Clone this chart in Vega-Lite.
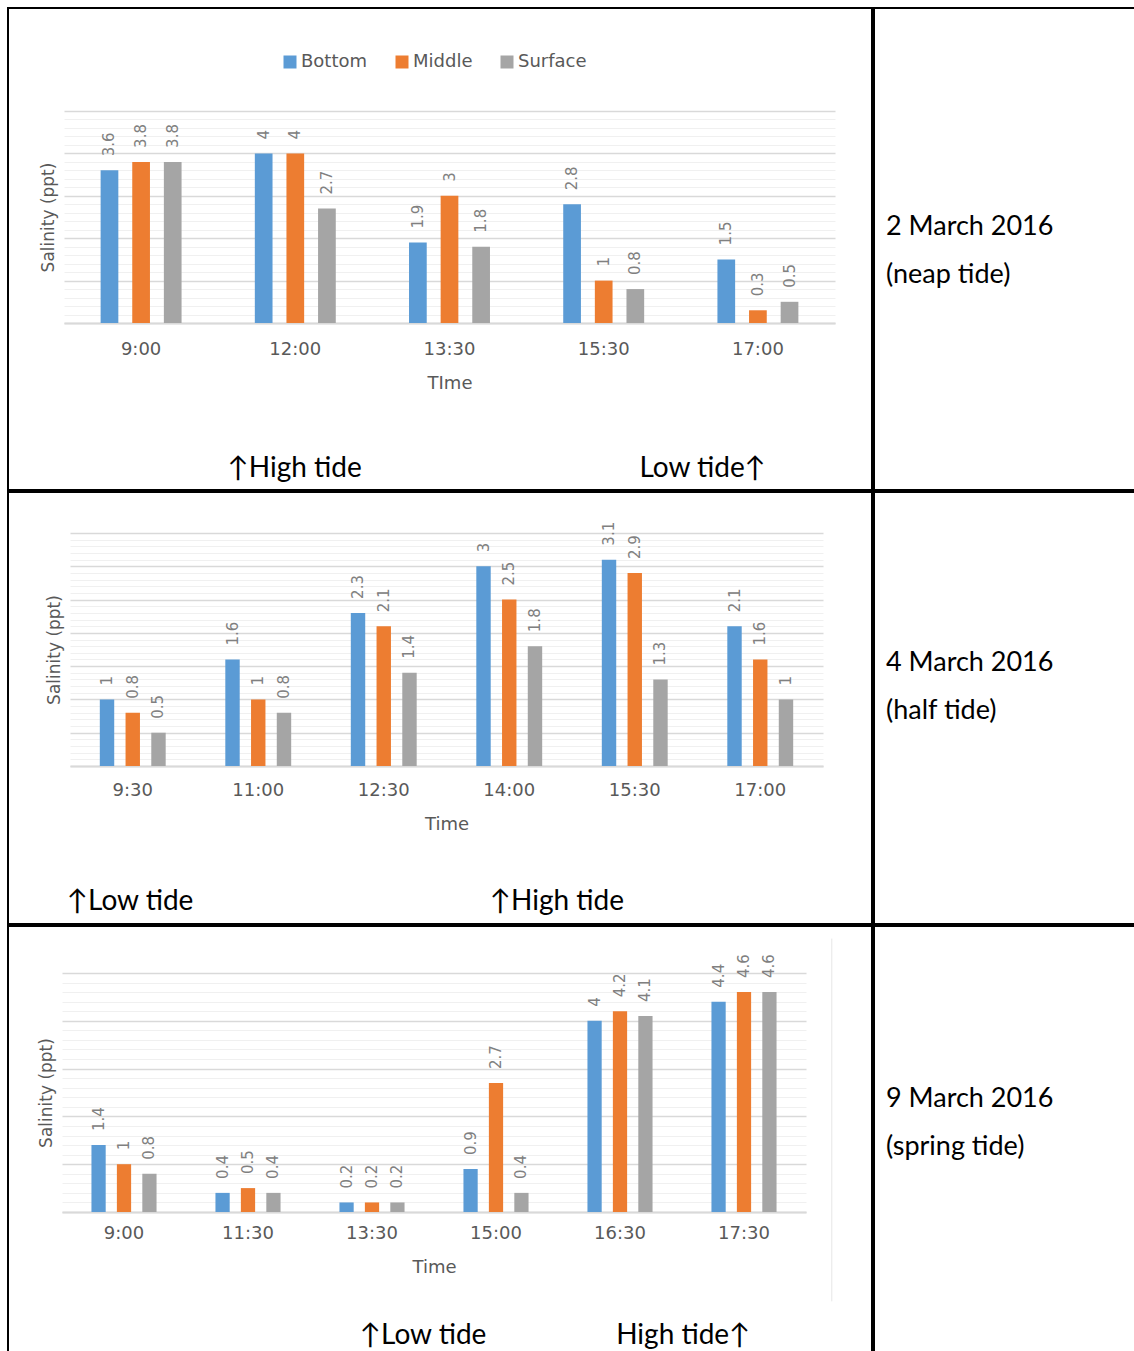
{
  "$schema": "https://vega.github.io/schema/vega-lite/v6.json",
  "padding": {"left": 7, "top": 7, "right": -9, "bottom": -12},
  "spacing": 0,
  "config": {
    "view": {"stroke": "#000000", "strokeWidth": 2},
    "font": "DejaVu Sans",
    "concat": {"spacing": 0},
    "axisX": {"labelAngle": 0, "ticks": false, "grid": false, "domainColor": "#d9d9d9", "domainWidth": 2,
              "labelFont": "DejaVu Sans", "labelFontSize": 18, "labelColor": "#595959",
              "titleFont": "DejaVu Sans", "titleFontSize": 18, "titleFontWeight": "normal", "titleColor": "#595959"},
    "axisY": {"labels": false, "ticks": false, "domain": false, "grid": true,
              "titleFont": "DejaVu Sans", "titleFontSize": 17, "titleFontWeight": "normal", "titleColor": "#595959", "titlePadding": 7}
  },
  "resolve": {"scale": {"color": "independent", "xOffset": "independent"}, "legend": {"color": "independent"}},
  "datasets": {
    "neap": [
      {"time": "9:00", "depth": "Bottom", "value": 3.6},
      {"time": "9:00", "depth": "Middle", "value": 3.8},
      {"time": "9:00", "depth": "Surface", "value": 3.8},
      {"time": "12:00", "depth": "Bottom", "value": 4},
      {"time": "12:00", "depth": "Middle", "value": 4},
      {"time": "12:00", "depth": "Surface", "value": 2.7},
      {"time": "13:30", "depth": "Bottom", "value": 1.9},
      {"time": "13:30", "depth": "Middle", "value": 3},
      {"time": "13:30", "depth": "Surface", "value": 1.8},
      {"time": "15:30", "depth": "Bottom", "value": 2.8},
      {"time": "15:30", "depth": "Middle", "value": 1},
      {"time": "15:30", "depth": "Surface", "value": 0.8},
      {"time": "17:00", "depth": "Bottom", "value": 1.5},
      {"time": "17:00", "depth": "Middle", "value": 0.3},
      {"time": "17:00", "depth": "Surface", "value": 0.5}
    ],
    "half": [
      {"time": "9:30", "depth": "Bottom", "value": 1},
      {"time": "9:30", "depth": "Middle", "value": 0.8},
      {"time": "9:30", "depth": "Surface", "value": 0.5},
      {"time": "11:00", "depth": "Bottom", "value": 1.6},
      {"time": "11:00", "depth": "Middle", "value": 1},
      {"time": "11:00", "depth": "Surface", "value": 0.8},
      {"time": "12:30", "depth": "Bottom", "value": 2.3},
      {"time": "12:30", "depth": "Middle", "value": 2.1},
      {"time": "12:30", "depth": "Surface", "value": 1.4},
      {"time": "14:00", "depth": "Bottom", "value": 3},
      {"time": "14:00", "depth": "Middle", "value": 2.5},
      {"time": "14:00", "depth": "Surface", "value": 1.8},
      {"time": "15:30", "depth": "Bottom", "value": 3.1},
      {"time": "15:30", "depth": "Middle", "value": 2.9},
      {"time": "15:30", "depth": "Surface", "value": 1.3},
      {"time": "17:00", "depth": "Bottom", "value": 2.1},
      {"time": "17:00", "depth": "Middle", "value": 1.6},
      {"time": "17:00", "depth": "Surface", "value": 1}
    ],
    "spring": [
      {"time": "9:00", "depth": "Bottom", "value": 1.4},
      {"time": "9:00", "depth": "Middle", "value": 1},
      {"time": "9:00", "depth": "Surface", "value": 0.8},
      {"time": "11:30", "depth": "Bottom", "value": 0.4},
      {"time": "11:30", "depth": "Middle", "value": 0.5},
      {"time": "11:30", "depth": "Surface", "value": 0.4},
      {"time": "13:30", "depth": "Bottom", "value": 0.2},
      {"time": "13:30", "depth": "Middle", "value": 0.2},
      {"time": "13:30", "depth": "Surface", "value": 0.2},
      {"time": "15:00", "depth": "Bottom", "value": 0.9},
      {"time": "15:00", "depth": "Middle", "value": 2.7},
      {"time": "15:00", "depth": "Surface", "value": 0.4},
      {"time": "16:30", "depth": "Bottom", "value": 4},
      {"time": "16:30", "depth": "Middle", "value": 4.2},
      {"time": "16:30", "depth": "Surface", "value": 4.1},
      {"time": "17:30", "depth": "Bottom", "value": 4.4},
      {"time": "17:30", "depth": "Middle", "value": 4.6},
      {"time": "17:30", "depth": "Surface", "value": 4.6}
    ]
  },
  "vconcat": [
    {
      "spacing": 0,
      "resolve": {"scale": {"color": "independent", "xOffset": "independent"}, "legend": {"color": "independent"}},
      "hconcat": [
        {
          "width": 864,
          "height": 482,
          "layer": [
            {
              "data": {"name": "neap"},
              "mark": {"type": "bar"},
              "encoding": {
                "x": {"field": "time", "type": "nominal", "title": "TIme",
                      "scale": {"domain": ["9:00", "12:00", "13:30", "15:30", "17:00"], "range": [56, 827], "paddingInner": 0.27, "paddingOuter": 0.135},
                      "axis": {"offset": -167, "labelPadding": 17, "titlePadding": 16}},
                "y": {"field": "value", "type": "quantitative", "title": "Salinity (ppt)",
                      "scale": {"domain": [0, 5], "range": [315, 103], "nice": false, "zero": false},
                      "axis": {"offset": -56, "values": [0, 0.2, 0.4, 0.6, 0.8, 1, 1.2, 1.4, 1.6, 1.8, 2, 2.2, 2.4, 2.6, 2.8, 3, 3.2, 3.4, 3.6, 3.8, 4, 4.2, 4.4, 4.6, 4.8, 5],
                               "gridColor": {"condition": {"test": "abs(datum.value - round(datum.value)) < 0.001", "value": "#d9d9d9"}, "value": "#f0f0f0"},
                               "gridWidth": {"condition": {"test": "abs(datum.value - round(datum.value)) < 0.001", "value": 1.5}, "value": 1}}},
                "xOffset": {"field": "depth", "type": "nominal", "sort": ["Bottom", "Middle", "Surface"], "scale": {"paddingInner": 0.44, "paddingOuter": 0.5}},
                "color": {
                  "field": "depth", "type": "nominal", "sort": ["Bottom", "Middle", "Surface"],
                  "scale": {"domain": ["Bottom", "Middle", "Surface"], "range": ["#5b9bd5", "#ed7d31", "#a5a5a5"]},
                  "legend": {"orient": "none", "legendX": 273, "legendY": 45, "direction": "horizontal", "columns": 3,
                             "title": null, "padding": 0, "columnPadding": 25, "symbolType": "square", "symbolSize": 169,
                             "symbolStrokeWidth": 0, "labelFont": "DejaVu Sans", "labelFontSize": 18, "labelColor": "#595959", "labelOffset": 2}
                }
              }
            },
            {
              "data": {"name": "neap"},
              "mark": {"type": "text", "angle": 270, "align": "left", "baseline": "middle", "dx": 14, "font": "DejaVu Sans", "fontSize": 15, "color": "#808080"},
              "encoding": {
                "x": {"field": "time", "type": "nominal", "title": "TIme",
                      "scale": {"domain": ["9:00", "12:00", "13:30", "15:30", "17:00"], "range": [56, 827], "paddingInner": 0.27, "paddingOuter": 0.135},
                      "axis": {"offset": -167, "labelPadding": 17, "titlePadding": 16}},
                "y": {"field": "value", "type": "quantitative", "title": "Salinity (ppt)",
                      "scale": {"domain": [0, 5], "range": [315, 103], "nice": false, "zero": false},
                      "axis": {"offset": -56, "values": [0, 0.2, 0.4, 0.6, 0.8, 1, 1.2, 1.4, 1.6, 1.8, 2, 2.2, 2.4, 2.6, 2.8, 3, 3.2, 3.4, 3.6, 3.8, 4, 4.2, 4.4, 4.6, 4.8, 5],
                               "gridColor": {"condition": {"test": "abs(datum.value - round(datum.value)) < 0.001", "value": "#d9d9d9"}, "value": "#f0f0f0"},
                               "gridWidth": {"condition": {"test": "abs(datum.value - round(datum.value)) < 0.001", "value": 1.5}, "value": 1}}},
                "xOffset": {"field": "depth", "type": "nominal", "sort": ["Bottom", "Middle", "Surface"], "scale": {"paddingInner": 0.44, "paddingOuter": 0.5}},
                "text": {"field": "value", "type": "quantitative"}
              }
            },
            {
              "data": {"values": [{"note": "↑High tide"}]},
              "mark": {"type": "text", "align": "left", "baseline": "middle", "font": "Lato", "fontSize": 28, "color": "#000000"},
              "encoding": {
                "x": {"datum": "12:00", "type": "nominal", "bandPosition": -0.1, "title": "TIme",
                      "scale": {"domain": ["9:00", "12:00", "13:30", "15:30", "17:00"], "range": [56, 827], "paddingInner": 0.27, "paddingOuter": 0.135},
                      "axis": {"offset": -167, "labelPadding": 17, "titlePadding": 16}},
                "y": {"datum": -3.45, "type": "quantitative", "title": "Salinity (ppt)",
                      "scale": {"domain": [0, 5], "range": [315, 103], "nice": false, "zero": false},
                      "axis": {"offset": -56, "values": [0, 0.2, 0.4, 0.6, 0.8, 1, 1.2, 1.4, 1.6, 1.8, 2, 2.2, 2.4, 2.6, 2.8, 3, 3.2, 3.4, 3.6, 3.8, 4, 4.2, 4.4, 4.6, 4.8, 5],
                               "gridColor": {"condition": {"test": "abs(datum.value - round(datum.value)) < 0.001", "value": "#d9d9d9"}, "value": "#f0f0f0"},
                               "gridWidth": {"condition": {"test": "abs(datum.value - round(datum.value)) < 0.001", "value": 1.5}, "value": 1}}},
                "text": {"field": "note", "type": "nominal"}
              }
            },
            {
              "data": {"values": [{"note": "Low tide↑"}]},
              "mark": {"type": "text", "align": "right", "baseline": "middle", "font": "Lato", "fontSize": 28, "color": "#000000"},
              "encoding": {
                "x": {"datum": "17:00", "type": "nominal", "bandPosition": 0.57, "title": "TIme",
                      "scale": {"domain": ["9:00", "12:00", "13:30", "15:30", "17:00"], "range": [56, 827], "paddingInner": 0.27, "paddingOuter": 0.135},
                      "axis": {"offset": -167, "labelPadding": 17, "titlePadding": 16}},
                "y": {"datum": -3.45, "type": "quantitative", "title": "Salinity (ppt)",
                      "scale": {"domain": [0, 5], "range": [315, 103], "nice": false, "zero": false},
                      "axis": {"offset": -56, "values": [0, 0.2, 0.4, 0.6, 0.8, 1, 1.2, 1.4, 1.6, 1.8, 2, 2.2, 2.4, 2.6, 2.8, 3, 3.2, 3.4, 3.6, 3.8, 4, 4.2, 4.4, 4.6, 4.8, 5],
                               "gridColor": {"condition": {"test": "abs(datum.value - round(datum.value)) < 0.001", "value": "#d9d9d9"}, "value": "#f0f0f0"},
                               "gridWidth": {"condition": {"test": "abs(datum.value - round(datum.value)) < 0.001", "value": 1.5}, "value": 1}}},
                "text": {"field": "note", "type": "nominal"}
              }
            }
          ]
        },
        {
          "width": 270,
          "height": 482,
          "data": {"values": [{"line": 1, "label": "2 March 2016"}, {"line": 2, "label": "(neap tide)"}]},
          "mark": {"type": "text", "align": "left", "baseline": "middle", "font": "Lato", "fontSize": 27, "color": "#000000"},
          "encoding": {
            "x": {"datum": 0, "type": "quantitative", "scale": {"domain": [0, 1], "range": [12, 262]}, "axis": null},
            "y": {"field": "line", "type": "ordinal", "scale": {"type": "point", "range": [219, 267], "padding": 0}, "axis": null},
            "text": {"field": "label"}
          }
        }
      ]
    },
    {
      "spacing": 0,
      "resolve": {"scale": {"color": "independent", "xOffset": "independent"}, "legend": {"color": "independent"}},
      "hconcat": [
        {
          "width": 864,
          "height": 432,
          "layer": [
            {
              "data": {"name": "half"},
              "mark": {"type": "bar"},
              "encoding": {
                "x": {"field": "time", "type": "nominal", "title": "Time",
                      "scale": {"domain": ["9:30", "11:00", "12:30", "14:00", "15:30", "17:00"], "range": [62, 815], "paddingInner": 0.27, "paddingOuter": 0.135},
                      "axis": {"offset": -158, "labelPadding": 15, "titlePadding": 16}},
                "y": {"field": "value", "type": "quantitative", "title": "Salinity (ppt)",
                      "scale": {"domain": [0, 3.5], "range": [274, 41], "nice": false, "zero": false},
                      "axis": {"offset": -62, "values": [0, 0.1, 0.2, 0.3, 0.4, 0.5, 0.6, 0.7, 0.8, 0.9, 1, 1.1, 1.2, 1.3, 1.4, 1.5, 1.6, 1.7, 1.8, 1.9, 2, 2.1, 2.2, 2.3, 2.4, 2.5, 2.6, 2.7, 2.8, 2.9, 3, 3.1, 3.2, 3.3, 3.4, 3.5],
                               "gridColor": {"condition": {"test": "abs(datum.value * 2 - round(datum.value * 2)) < 0.001", "value": "#d9d9d9"}, "value": "#f0f0f0"},
                               "gridWidth": {"condition": {"test": "abs(datum.value * 2 - round(datum.value * 2)) < 0.001", "value": 1.5}, "value": 1}}},
                "xOffset": {"field": "depth", "type": "nominal", "sort": ["Bottom", "Middle", "Surface"], "scale": {"paddingInner": 0.44, "paddingOuter": 0.5}},
                "color": {
                  "field": "depth", "type": "nominal", "sort": ["Bottom", "Middle", "Surface"],
                  "scale": {"domain": ["Bottom", "Middle", "Surface"], "range": ["#5b9bd5", "#ed7d31", "#a5a5a5"]},
                  "legend": null
                }
              }
            },
            {
              "data": {"name": "half"},
              "mark": {"type": "text", "angle": 270, "align": "left", "baseline": "middle", "dx": 14, "font": "DejaVu Sans", "fontSize": 15, "color": "#808080"},
              "encoding": {
                "x": {"field": "time", "type": "nominal", "title": "Time",
                      "scale": {"domain": ["9:30", "11:00", "12:30", "14:00", "15:30", "17:00"], "range": [62, 815], "paddingInner": 0.27, "paddingOuter": 0.135},
                      "axis": {"offset": -158, "labelPadding": 15, "titlePadding": 16}},
                "y": {"field": "value", "type": "quantitative", "title": "Salinity (ppt)",
                      "scale": {"domain": [0, 3.5], "range": [274, 41], "nice": false, "zero": false},
                      "axis": {"offset": -62, "values": [0, 0.1, 0.2, 0.3, 0.4, 0.5, 0.6, 0.7, 0.8, 0.9, 1, 1.1, 1.2, 1.3, 1.4, 1.5, 1.6, 1.7, 1.8, 1.9, 2, 2.1, 2.2, 2.3, 2.4, 2.5, 2.6, 2.7, 2.8, 2.9, 3, 3.1, 3.2, 3.3, 3.4, 3.5],
                               "gridColor": {"condition": {"test": "abs(datum.value * 2 - round(datum.value * 2)) < 0.001", "value": "#d9d9d9"}, "value": "#f0f0f0"},
                               "gridWidth": {"condition": {"test": "abs(datum.value * 2 - round(datum.value * 2)) < 0.001", "value": 1.5}, "value": 1}}},
                "xOffset": {"field": "depth", "type": "nominal", "sort": ["Bottom", "Middle", "Surface"], "scale": {"paddingInner": 0.44, "paddingOuter": 0.5}},
                "text": {"field": "value", "type": "quantitative"}
              }
            },
            {
              "data": {"values": [{"note": "↑Low tide"}]},
              "mark": {"type": "text", "align": "left", "baseline": "middle", "font": "Lato", "fontSize": 28, "color": "#000000"},
              "encoding": {
                "x": {"datum": "9:30", "type": "nominal", "bandPosition": -0.217, "title": "Time",
                      "scale": {"domain": ["9:30", "11:00", "12:30", "14:00", "15:30", "17:00"], "range": [62, 815], "paddingInner": 0.27, "paddingOuter": 0.135},
                      "axis": {"offset": -158, "labelPadding": 15, "titlePadding": 16}},
                "y": {"datum": -2.04, "type": "quantitative", "title": "Salinity (ppt)",
                      "scale": {"domain": [0, 3.5], "range": [274, 41], "nice": false, "zero": false},
                      "axis": {"offset": -62, "values": [0, 0.1, 0.2, 0.3, 0.4, 0.5, 0.6, 0.7, 0.8, 0.9, 1, 1.1, 1.2, 1.3, 1.4, 1.5, 1.6, 1.7, 1.8, 1.9, 2, 2.1, 2.2, 2.3, 2.4, 2.5, 2.6, 2.7, 2.8, 2.9, 3, 3.1, 3.2, 3.3, 3.4, 3.5],
                               "gridColor": {"condition": {"test": "abs(datum.value * 2 - round(datum.value * 2)) < 0.001", "value": "#d9d9d9"}, "value": "#f0f0f0"},
                               "gridWidth": {"condition": {"test": "abs(datum.value * 2 - round(datum.value * 2)) < 0.001", "value": 1.5}, "value": 1}}},
                "text": {"field": "note", "type": "nominal"}
              }
            },
            {
              "data": {"values": [{"note": "↑High tide"}]},
              "mark": {"type": "text", "align": "left", "baseline": "middle", "font": "Lato", "fontSize": 28, "color": "#000000"},
              "encoding": {
                "x": {"datum": "14:00", "type": "nominal", "bandPosition": 0.29, "title": "Time",
                      "scale": {"domain": ["9:30", "11:00", "12:30", "14:00", "15:30", "17:00"], "range": [62, 815], "paddingInner": 0.27, "paddingOuter": 0.135},
                      "axis": {"offset": -158, "labelPadding": 15, "titlePadding": 16}},
                "y": {"datum": -2.04, "type": "quantitative", "title": "Salinity (ppt)",
                      "scale": {"domain": [0, 3.5], "range": [274, 41], "nice": false, "zero": false},
                      "axis": {"offset": -62, "values": [0, 0.1, 0.2, 0.3, 0.4, 0.5, 0.6, 0.7, 0.8, 0.9, 1, 1.1, 1.2, 1.3, 1.4, 1.5, 1.6, 1.7, 1.8, 1.9, 2, 2.1, 2.2, 2.3, 2.4, 2.5, 2.6, 2.7, 2.8, 2.9, 3, 3.1, 3.2, 3.3, 3.4, 3.5],
                               "gridColor": {"condition": {"test": "abs(datum.value * 2 - round(datum.value * 2)) < 0.001", "value": "#d9d9d9"}, "value": "#f0f0f0"},
                               "gridWidth": {"condition": {"test": "abs(datum.value * 2 - round(datum.value * 2)) < 0.001", "value": 1.5}, "value": 1}}},
                "text": {"field": "note", "type": "nominal"}
              }
            }
          ]
        },
        {
          "width": 270,
          "height": 432,
          "data": {"values": [{"line": 1, "label": "4 March 2016"}, {"line": 2, "label": "(half tide)"}]},
          "mark": {"type": "text", "align": "left", "baseline": "middle", "font": "Lato", "fontSize": 27, "color": "#000000"},
          "encoding": {
            "x": {"datum": 0, "type": "quantitative", "scale": {"domain": [0, 1], "range": [12, 262]}, "axis": null},
            "y": {"field": "line", "type": "ordinal", "scale": {"type": "point", "range": [171, 219], "padding": 0}, "axis": null},
            "text": {"field": "label"}
          }
        }
      ]
    },
    {
      "spacing": 0,
      "resolve": {"scale": {"color": "independent", "xOffset": "independent"}, "legend": {"color": "independent"}},
      "hconcat": [
        {
          "width": 864,
          "height": 440,
          "layer": [
            {
              "data": {"name": "spring"},
              "mark": {"type": "bar"},
              "encoding": {
                "x": {"field": "time", "type": "nominal", "title": "Time",
                      "scale": {"domain": ["9:00", "11:30", "13:30", "15:00", "16:30", "17:30"], "range": [54, 798], "paddingInner": 0.27, "paddingOuter": 0.135},
                      "axis": {"offset": -154, "labelPadding": 12, "titlePadding": 16}},
                "y": {"field": "value", "type": "quantitative", "title": "Salinity (ppt)",
                      "scale": {"domain": [0, 5], "range": [286, 47], "nice": false, "zero": false},
                      "axis": {"offset": -54, "values": [0, 0.2, 0.4, 0.6, 0.8, 1, 1.2, 1.4, 1.6, 1.8, 2, 2.2, 2.4, 2.6, 2.8, 3, 3.2, 3.4, 3.6, 3.8, 4, 4.2, 4.4, 4.6, 4.8, 5],
                               "gridColor": {"condition": {"test": "abs(datum.value - round(datum.value)) < 0.001", "value": "#d9d9d9"}, "value": "#f0f0f0"},
                               "gridWidth": {"condition": {"test": "abs(datum.value - round(datum.value)) < 0.001", "value": 1.5}, "value": 1}}},
                "xOffset": {"field": "depth", "type": "nominal", "sort": ["Bottom", "Middle", "Surface"], "scale": {"paddingInner": 0.44, "paddingOuter": 0.5}},
                "color": {
                  "field": "depth", "type": "nominal", "sort": ["Bottom", "Middle", "Surface"],
                  "scale": {"domain": ["Bottom", "Middle", "Surface"], "range": ["#5b9bd5", "#ed7d31", "#a5a5a5"]},
                  "legend": null
                }
              }
            },
            {
              "data": {"name": "spring"},
              "mark": {"type": "text", "angle": 270, "align": "left", "baseline": "middle", "dx": 14, "font": "DejaVu Sans", "fontSize": 15, "color": "#808080"},
              "encoding": {
                "x": {"field": "time", "type": "nominal", "title": "Time",
                      "scale": {"domain": ["9:00", "11:30", "13:30", "15:00", "16:30", "17:30"], "range": [54, 798], "paddingInner": 0.27, "paddingOuter": 0.135},
                      "axis": {"offset": -154, "labelPadding": 12, "titlePadding": 16}},
                "y": {"field": "value", "type": "quantitative", "title": "Salinity (ppt)",
                      "scale": {"domain": [0, 5], "range": [286, 47], "nice": false, "zero": false},
                      "axis": {"offset": -54, "values": [0, 0.2, 0.4, 0.6, 0.8, 1, 1.2, 1.4, 1.6, 1.8, 2, 2.2, 2.4, 2.6, 2.8, 3, 3.2, 3.4, 3.6, 3.8, 4, 4.2, 4.4, 4.6, 4.8, 5],
                               "gridColor": {"condition": {"test": "abs(datum.value - round(datum.value)) < 0.001", "value": "#d9d9d9"}, "value": "#f0f0f0"},
                               "gridWidth": {"condition": {"test": "abs(datum.value - round(datum.value)) < 0.001", "value": 1.5}, "value": 1}}},
                "xOffset": {"field": "depth", "type": "nominal", "sort": ["Bottom", "Middle", "Surface"], "scale": {"paddingInner": 0.44, "paddingOuter": 0.5}},
                "text": {"field": "value", "type": "quantitative"}
              }
            },
            {
              "data": {"values": [{"note": "↑Low tide"}]},
              "mark": {"type": "text", "align": "left", "baseline": "middle", "font": "Lato", "fontSize": 28, "color": "#000000"},
              "encoding": {
                "x": {"datum": "13:30", "type": "nominal", "bandPosition": 0.368, "title": "Time",
                      "scale": {"domain": ["9:00", "11:30", "13:30", "15:00", "16:30", "17:30"], "range": [54, 798], "paddingInner": 0.27, "paddingOuter": 0.135},
                      "axis": {"offset": -154, "labelPadding": 12, "titlePadding": 16}},
                "y": {"datum": -2.59, "type": "quantitative", "title": "Salinity (ppt)",
                      "scale": {"domain": [0, 5], "range": [286, 47], "nice": false, "zero": false},
                      "axis": {"offset": -54, "values": [0, 0.2, 0.4, 0.6, 0.8, 1, 1.2, 1.4, 1.6, 1.8, 2, 2.2, 2.4, 2.6, 2.8, 3, 3.2, 3.4, 3.6, 3.8, 4, 4.2, 4.4, 4.6, 4.8, 5],
                               "gridColor": {"condition": {"test": "abs(datum.value - round(datum.value)) < 0.001", "value": "#d9d9d9"}, "value": "#f0f0f0"},
                               "gridWidth": {"condition": {"test": "abs(datum.value - round(datum.value)) < 0.001", "value": 1.5}, "value": 1}}},
                "text": {"field": "note", "type": "nominal"}
              }
            },
            {
              "data": {"values": [{"note": "High tide↑"}]},
              "mark": {"type": "text", "align": "right", "baseline": "middle", "font": "Lato", "fontSize": 28, "color": "#000000"},
              "encoding": {
                "x": {"datum": "17:30", "type": "nominal", "bandPosition": 0.568, "title": "Time",
                      "scale": {"domain": ["9:00", "11:30", "13:30", "15:00", "16:30", "17:30"], "range": [54, 798], "paddingInner": 0.27, "paddingOuter": 0.135},
                      "axis": {"offset": -154, "labelPadding": 12, "titlePadding": 16}},
                "y": {"datum": -2.59, "type": "quantitative", "title": "Salinity (ppt)",
                      "scale": {"domain": [0, 5], "range": [286, 47], "nice": false, "zero": false},
                      "axis": {"offset": -54, "values": [0, 0.2, 0.4, 0.6, 0.8, 1, 1.2, 1.4, 1.6, 1.8, 2, 2.2, 2.4, 2.6, 2.8, 3, 3.2, 3.4, 3.6, 3.8, 4, 4.2, 4.4, 4.6, 4.8, 5],
                               "gridColor": {"condition": {"test": "abs(datum.value - round(datum.value)) < 0.001", "value": "#d9d9d9"}, "value": "#f0f0f0"},
                               "gridWidth": {"condition": {"test": "abs(datum.value - round(datum.value)) < 0.001", "value": 1.5}, "value": 1}}},
                "text": {"field": "note", "type": "nominal"}
              }
            },
            {
              "data": {"values": [{"frame": "chart edge"}]},
              "mark": {"type": "rule", "color": "#e6e6e6", "strokeWidth": 1},
              "encoding": {
                "x": {"datum": "17:30", "type": "nominal", "bandPosition": 1.47, "title": "Time",
                      "scale": {"domain": ["9:00", "11:30", "13:30", "15:00", "16:30", "17:30"], "range": [54, 798], "paddingInner": 0.27, "paddingOuter": 0.135},
                      "axis": {"offset": -154, "labelPadding": 12, "titlePadding": 16}},
                "y": {"datum": 5.72, "type": "quantitative", "title": "Salinity (ppt)",
                      "scale": {"domain": [0, 5], "range": [286, 47], "nice": false, "zero": false},
                      "axis": {"offset": -54, "values": [0, 0.2, 0.4, 0.6, 0.8, 1, 1.2, 1.4, 1.6, 1.8, 2, 2.2, 2.4, 2.6, 2.8, 3, 3.2, 3.4, 3.6, 3.8, 4, 4.2, 4.4, 4.6, 4.8, 5],
                               "gridColor": {"condition": {"test": "abs(datum.value - round(datum.value)) < 0.001", "value": "#d9d9d9"}, "value": "#f0f0f0"},
                               "gridWidth": {"condition": {"test": "abs(datum.value - round(datum.value)) < 0.001", "value": 1.5}, "value": 1}}},
                "y2": {"datum": -1.87}
              }
            }
          ]
        },
        {
          "width": 270,
          "height": 440,
          "data": {"values": [{"line": 1, "label": "9 March 2016"}, {"line": 2, "label": "(spring tide)"}]},
          "mark": {"type": "text", "align": "left", "baseline": "middle", "font": "Lato", "fontSize": 27, "color": "#000000"},
          "encoding": {
            "x": {"datum": 0, "type": "quantitative", "scale": {"domain": [0, 1], "range": [12, 262]}, "axis": null},
            "y": {"field": "line", "type": "ordinal", "scale": {"type": "point", "range": [173, 221], "padding": 0}, "axis": null},
            "text": {"field": "label"}
          }
        }
      ]
    }
  ]
}
